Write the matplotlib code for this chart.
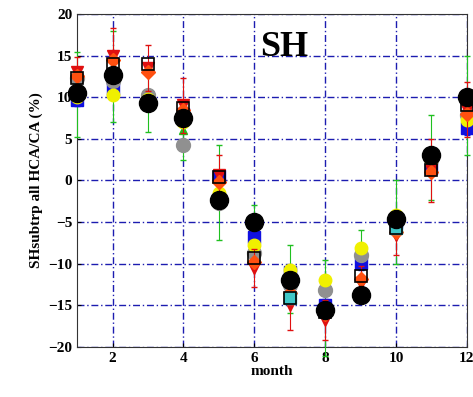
import matplotlib
matplotlib.use("Agg")
import matplotlib.pyplot as plt

months = [1, 2, 3, 4, 5, 6, 7, 8, 9, 10, 11, 12]

# per-source monthly anomalies (%)
black_sq = [12.3, 14.0, 14.0, 8.7, 0.4, -9.3, -14.1, -15.8, -11.5, -5.7, 1.2, 9.0]
cyan_sq = [10.5, 12.7, 9.3, 7.5, -2.3, -5.0, -14.1, -15.5, -13.8, -5.7, 3.0, 10.0]
red_tri = [13.0, 15.0, 13.5, 9.0, 0.6, -10.5, -15.0, -16.8, -12.3, -6.5, 1.2, 8.5]
red_err = [1.8, 3.3, 2.8, 3.3, 2.4, 2.3, 3.0, 2.4, 2.0, 2.5, 3.8, 3.3]
orange_dm = [12.5, 14.5, 13.0, 8.5, -0.2, -9.8, -13.5, -16.0, -11.8, -6.2, 1.0, 8.0]
blue_sq = [9.7, 11.0, 9.5, 8.0, 0.5, -6.8, -11.0, -15.0, -9.9, -5.0, 1.5, 6.3]
blue_err = [0.8, 1.0, 0.8, 0.8, 0.8, 0.8, 0.8, 0.8, 0.8, 0.8, 0.8, 0.8]
yellow = [10.0, 10.3, 9.8, 7.0, -1.5, -7.7, -10.8, -12.0, -8.1, -4.1, 2.5, 7.3]
gray = [12.3, 12.0, 10.3, 4.3, -2.7, -8.7, -12.5, -13.2, -9.0, -4.8, 2.5, 7.9]
green = [10.3, 12.5, 9.3, 6.0, -1.5, -6.0, -11.8, -15.3, -10.2, -5.0, 2.8, 9.0]
green_err = [5.1, 5.5, 3.5, 3.5, 5.7, 3.0, 4.1, 5.8, 4.2, 5.0, 5.1, 6.0]
mean = [10.5, 12.7, 9.3, 7.5, -2.3, -5.0, -12.0, -15.5, -13.8, -4.6, 3.0, 10.0]

plt.rcParams["font.family"] = ["Liberation Serif", "DejaVu Serif"]
plt.rcParams["font.weight"] = "bold"

fig = plt.figure(figsize=(4.73, 3.97), dpi=100)
ax = fig.add_axes([0.163, 0.126, 0.824, 0.839])

ax.grid(True, color="#1c1cb0", linestyle=(0, (5, 2, 1, 2)), linewidth=1.0)
ax.set_axisbelow(True)

pk = dict(linestyle="none", clip_on=False)
kw = dict(linestyle="none", clip_on=False, capsize=2, elinewidth=0.8)
ax.errorbar(months, green, yerr=green_err, fmt="^", color="#20c020", ms=6, zorder=2, **kw)
ax.errorbar(months, blue_sq, yerr=blue_err, fmt="s", color="#1010e0", ms=8, zorder=3, **kw)
ax.plot(months, gray, "o", color="#909090", ms=10, zorder=4, **pk)
ax.plot(months, yellow, "o", color="#f0f000", ms=9, zorder=5, **pk)
ax.errorbar(months, red_tri, yerr=red_err, fmt="v", color="#e01010", ms=8, zorder=6, **kw)
ax.plot(months, orange_dm, "D", color="#ff5010", ms=7, zorder=7, **pk)
ax.plot(months, cyan_sq, "s", color="#40c8c8", ms=9, zorder=7.5, **pk)
ax.plot(months, black_sq, "s", mfc="none", mec="black", mew=1.2, ms=9, zorder=8, **pk)
ax.plot(months, mean, "o", color="black", ms=13, zorder=9, **pk)

ax.set_xlim(1, 12)
ax.set_ylim(-20, 20)
ax.set_xticks([2, 4, 6, 8, 10, 12])
ax.set_yticks(range(-20, 21, 5))
ax.tick_params(labelsize=11, direction="in", length=3)
for lab in ax.get_xticklabels() + ax.get_yticklabels():
    lab.set_fontweight("bold")

ax.set_xlabel("month", fontsize=11, fontweight="bold", labelpad=0)
ax.set_ylabel("SHsubtrp all HCA/CA (%)", fontsize=11, fontweight="bold")
ax.text(0.47, 0.9, "SH", transform=ax.transAxes, fontsize=26, fontweight="bold",
        ha="left", va="center", zorder=10)

for s in ax.spines.values():
    s.set_color("#333333")
    s.set_zorder(1)

fig.savefig("out.png", dpi=100)
